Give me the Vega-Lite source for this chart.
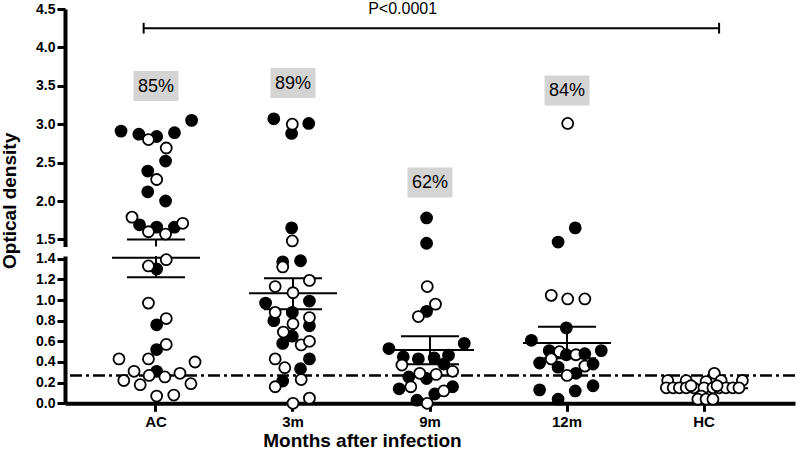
{
  "$schema": "https://vega.github.io/schema/vega-lite/v6.json",
  "background": "white",
  "padding": {"left": 0, "top": 1, "right": 2, "bottom": 2},
  "spacing": 9,
  "bounds": "flush",
  "config": {
    "view": {"stroke": null},
    "font": "Liberation Sans",
    "axis": {
      "domainColor": "black", "domainWidth": 4, "tickColor": "black", "tickWidth": 3, "tickSize": 8,
      "labelColor": "black", "labelFont": "Liberation Sans", "labelFontWeight": "bold", "labelFontSize": 14, "labelPadding": 2,
      "labelOverlap": false, "labelFlush": false,
      "titleColor": "black", "titleFont": "Liberation Sans", "titleFontWeight": "bold", "titleFontSize": 19, "grid": false
    }
  },
  "datasets": {
    "pts": [
      {"group":"AC","od":2.91,"status":"filled","jitter":-0.51},
      {"group":"AC","od":2.87,"status":"filled","jitter":-0.25},
      {"group":"AC","od":2.84,"status":"filled","jitter":0.01},
      {"group":"AC","od":2.89,"status":"filled","jitter":0.27},
      {"group":"AC","od":3.05,"status":"filled","jitter":0.52},
      {"group":"AC","od":2.52,"status":"filled","jitter":0.14},
      {"group":"AC","od":2.39,"status":"filled","jitter":-0.12},
      {"group":"AC","od":2.12,"status":"filled","jitter":-0.12},
      {"group":"AC","od":2.0,"status":"filled","jitter":0.14},
      {"group":"AC","od":1.69,"status":"filled","jitter":-0.24},
      {"group":"AC","od":1.66,"status":"filled","jitter":0.01},
      {"group":"AC","od":1.66,"status":"filled","jitter":0.27},
      {"group":"AC","od":1.30,"status":"filled","jitter":0.01},
      {"group":"AC","od":0.76,"status":"filled","jitter":0.01},
      {"group":"AC","od":0.52,"status":"filled","jitter":0.01},
      {"group":"AC","od":0.31,"status":"filled","jitter":0.01},
      {"group":"AC","od":2.80,"status":"open","jitter":-0.11},
      {"group":"AC","od":2.69,"status":"open","jitter":0.15},
      {"group":"AC","od":2.28,"status":"open","jitter":0.01},
      {"group":"AC","od":1.79,"status":"open","jitter":-0.35},
      {"group":"AC","od":1.71,"status":"open","jitter":0.39},
      {"group":"AC","od":1.60,"status":"open","jitter":-0.11},
      {"group":"AC","od":1.57,"status":"open","jitter":0.14},
      {"group":"AC","od":1.39,"status":"open","jitter":0.15},
      {"group":"AC","od":1.33,"status":"open","jitter":-0.11},
      {"group":"AC","od":0.97,"status":"open","jitter":-0.11},
      {"group":"AC","od":0.82,"status":"open","jitter":0.15},
      {"group":"AC","od":0.57,"status":"open","jitter":0.15},
      {"group":"AC","od":0.43,"status":"open","jitter":-0.54},
      {"group":"AC","od":0.43,"status":"open","jitter":-0.11},
      {"group":"AC","od":0.40,"status":"open","jitter":0.57},
      {"group":"AC","od":0.31,"status":"open","jitter":-0.32},
      {"group":"AC","od":0.29,"status":"open","jitter":0.35},
      {"group":"AC","od":0.27,"status":"open","jitter":-0.10},
      {"group":"AC","od":0.255,"status":"open","jitter":0.13},
      {"group":"AC","od":0.22,"status":"open","jitter":-0.47},
      {"group":"AC","od":0.18,"status":"open","jitter":-0.23},
      {"group":"AC","od":0.19,"status":"open","jitter":0.51},
      {"group":"AC","od":0.07,"status":"open","jitter":0.01},
      {"group":"AC","od":0.08,"status":"open","jitter":0.26},
      {"group":"3m","od":3.07,"status":"filled","jitter":-0.28},
      {"group":"3m","od":3.01,"status":"filled","jitter":0.23},
      {"group":"3m","od":2.88,"status":"filled","jitter":-0.02},
      {"group":"3m","od":1.65,"status":"filled","jitter":-0.02},
      {"group":"3m","od":1.37,"status":"filled","jitter":-0.15},
      {"group":"3m","od":1.38,"status":"filled","jitter":0.11},
      {"group":"3m","od":0.97,"status":"filled","jitter":-0.40},
      {"group":"3m","od":0.99,"status":"filled","jitter":0.24},
      {"group":"3m","od":0.88,"status":"filled","jitter":-0.01},
      {"group":"3m","od":0.80,"status":"filled","jitter":-0.28},
      {"group":"3m","od":0.75,"status":"filled","jitter":0.24},
      {"group":"3m","od":0.65,"status":"filled","jitter":-0.01},
      {"group":"3m","od":0.58,"status":"filled","jitter":-0.15},
      {"group":"3m","od":0.43,"status":"filled","jitter":0.24},
      {"group":"3m","od":0.335,"status":"filled","jitter":0.11},
      {"group":"3m","od":0.215,"status":"filled","jitter":-0.15},
      {"group":"3m","od":3.0,"status":"open","jitter":-0.01},
      {"group":"3m","od":1.48,"status":"open","jitter":-0.01},
      {"group":"3m","od":1.32,"status":"open","jitter":-0.15},
      {"group":"3m","od":1.19,"status":"open","jitter":0.24},
      {"group":"3m","od":1.13,"status":"open","jitter":-0.26},
      {"group":"3m","od":1.07,"status":"open","jitter":0.0},
      {"group":"3m","od":0.88,"status":"open","jitter":-0.26},
      {"group":"3m","od":0.83,"status":"open","jitter":0.24},
      {"group":"3m","od":0.77,"status":"open","jitter":0.0},
      {"group":"3m","od":0.69,"status":"open","jitter":-0.14},
      {"group":"3m","od":0.565,"status":"open","jitter":0.12},
      {"group":"3m","od":0.60,"status":"open","jitter":0.24},
      {"group":"3m","od":0.43,"status":"open","jitter":-0.26},
      {"group":"3m","od":0.345,"status":"open","jitter":-0.12},
      {"group":"3m","od":0.23,"status":"open","jitter":0.12},
      {"group":"3m","od":0.16,"status":"open","jitter":-0.26},
      {"group":"3m","od":0.05,"status":"open","jitter":0.24},
      {"group":"3m","od":0.0,"status":"open","jitter":0.0},
      {"group":"9m","od":1.78,"status":"filled","jitter":-0.05},
      {"group":"9m","od":1.45,"status":"filled","jitter":-0.05},
      {"group":"9m","od":0.89,"status":"filled","jitter":-0.05},
      {"group":"9m","od":0.53,"status":"filled","jitter":-0.60},
      {"group":"9m","od":0.45,"status":"filled","jitter":-0.39},
      {"group":"9m","od":0.43,"status":"filled","jitter":-0.17},
      {"group":"9m","od":0.44,"status":"filled","jitter":0.06},
      {"group":"9m","od":0.465,"status":"filled","jitter":0.27},
      {"group":"9m","od":0.58,"status":"filled","jitter":0.50},
      {"group":"9m","od":0.38,"status":"filled","jitter":0.20},
      {"group":"9m","od":0.255,"status":"filled","jitter":-0.31},
      {"group":"9m","od":0.24,"status":"filled","jitter":-0.05},
      {"group":"9m","od":0.14,"status":"filled","jitter":-0.45},
      {"group":"9m","od":0.16,"status":"filled","jitter":0.33},
      {"group":"9m","od":0.09,"status":"filled","jitter":0.07},
      {"group":"9m","od":0.03,"status":"filled","jitter":-0.19},
      {"group":"9m","od":1.13,"status":"open","jitter":-0.04},
      {"group":"9m","od":0.96,"status":"open","jitter":0.08},
      {"group":"9m","od":0.84,"status":"open","jitter":-0.17},
      {"group":"9m","od":0.37,"status":"open","jitter":-0.41},
      {"group":"9m","od":0.29,"status":"open","jitter":-0.15},
      {"group":"9m","od":0.28,"status":"open","jitter":0.09},
      {"group":"9m","od":0.31,"status":"open","jitter":0.33},
      {"group":"9m","od":0.16,"status":"open","jitter":-0.28},
      {"group":"9m","od":0.12,"status":"open","jitter":0.20},
      {"group":"9m","od":0.0,"status":"open","jitter":-0.04},
      {"group":"12m","od":3.01,"status":"open","jitter":0.01},
      {"group":"12m","od":1.65,"status":"filled","jitter":0.12},
      {"group":"12m","od":1.465,"status":"filled","jitter":-0.13},
      {"group":"12m","od":1.045,"status":"open","jitter":-0.23},
      {"group":"12m","od":1.01,"status":"open","jitter":0.01},
      {"group":"12m","od":1.01,"status":"open","jitter":0.26},
      {"group":"12m","od":0.73,"status":"filled","jitter":-0.01},
      {"group":"12m","od":0.61,"status":"filled","jitter":-0.52},
      {"group":"12m","od":0.51,"status":"filled","jitter":-0.26},
      {"group":"12m","od":0.50,"status":"open","jitter":-0.11},
      {"group":"12m","od":0.47,"status":"filled","jitter":-0.01},
      {"group":"12m","od":0.47,"status":"open","jitter":0.13},
      {"group":"12m","od":0.48,"status":"filled","jitter":0.26},
      {"group":"12m","od":0.51,"status":"filled","jitter":0.50},
      {"group":"12m","od":0.39,"status":"filled","jitter":-0.40},
      {"group":"12m","od":0.43,"status":"open","jitter":-0.23},
      {"group":"12m","od":0.35,"status":"filled","jitter":-0.13},
      {"group":"12m","od":0.36,"status":"open","jitter":0.26},
      {"group":"12m","od":0.38,"status":"filled","jitter":0.38},
      {"group":"12m","od":0.29,"status":"filled","jitter":0.13},
      {"group":"12m","od":0.27,"status":"open","jitter":0.0},
      {"group":"12m","od":0.13,"status":"filled","jitter":-0.40},
      {"group":"12m","od":0.12,"status":"filled","jitter":0.12},
      {"group":"12m","od":0.17,"status":"filled","jitter":0.38},
      {"group":"12m","od":0.04,"status":"filled","jitter":-0.13},
      {"group":"HC","od":0.29,"status":"open","jitter":0.15},
      {"group":"HC","od":0.22,"status":"open","jitter":-0.53},
      {"group":"HC","od":0.22,"status":"open","jitter":-0.26},
      {"group":"HC","od":0.21,"status":"open","jitter":0.03},
      {"group":"HC","od":0.22,"status":"open","jitter":0.25},
      {"group":"HC","od":0.22,"status":"open","jitter":0.56},
      {"group":"HC","od":0.15,"status":"open","jitter":-0.55},
      {"group":"HC","od":0.15,"status":"open","jitter":-0.45},
      {"group":"HC","od":0.15,"status":"open","jitter":-0.36},
      {"group":"HC","od":0.15,"status":"open","jitter":-0.26},
      {"group":"HC","od":0.15,"status":"open","jitter":-0.15},
      {"group":"HC","od":0.15,"status":"open","jitter":0.0},
      {"group":"HC","od":0.15,"status":"open","jitter":0.13},
      {"group":"HC","od":0.15,"status":"open","jitter":0.22},
      {"group":"HC","od":0.15,"status":"open","jitter":0.32},
      {"group":"HC","od":0.15,"status":"open","jitter":0.42},
      {"group":"HC","od":0.15,"status":"open","jitter":0.51},
      {"group":"HC","od":0.17,"status":"open","jitter":-0.19},
      {"group":"HC","od":0.17,"status":"open","jitter":0.19},
      {"group":"HC","od":0.07,"status":"open","jitter":-0.04},
      {"group":"HC","od":0.04,"status":"open","jitter":-0.09},
      {"group":"HC","od":0.04,"status":"open","jitter":0.03},
      {"group":"HC","od":0.04,"status":"open","jitter":0.13}
    ],
    "stats": [
      {"group":"AC","mean":1.41,"lo":1.22,"hi":1.50},
      {"group":"3m","mean":1.065,"lo":0.91,"hi":1.21},
      {"group":"9m","mean":0.516,"lo":0.377,"hi":0.65},
      {"group":"12m","mean":0.584,"lo":0.435,"hi":0.74},
      {"group":"HC","mean":0.145,"lo":0.13,"hi":0.16}
    ],
    "pct": [
      {"group":"AC","od":3.496,"label":"85%"},
      {"group":"3m","od":3.538,"label":"89%"},
      {"group":"9m","od":2.242,"label":"62%"},
      {"group":"12m","od":3.44,"label":"84%"}
    ]
  },
  "vconcat": [
    {
      "width": 730,
      "height": 237.4,
      "encoding": {
        "x": {"field": "group", "type": "nominal", "scale": {"type": "band", "domain": ["AC","3m","9m","12m","HC"], "paddingInner": 0, "paddingOuter": 0.164}, "axis": null}
      },
      "layer": [
        {
          "data": {"name": "pct"},
          "mark": {"type": "point", "shape": "M-1,-0.667L1,-0.667L1,0.667L-1,0.667Z", "size": 2025, "filled": true, "fill": "#d4d4d4", "opacity": 1, "strokeWidth": 0},
          "encoding": {
            "y": {"field": "od", "type": "quantitative", "scale": {"domain": [1.409, 4.5], "nice": false, "zero": false},
                  "axis": {"values": [1.5,2,2.5,3,3.5,4,4.5], "tickCount": 50, "format": ".1f", "title": "Optical density", "titleY": 191.4, "titleX": -46, "titleAlign": "center"}}
          }
        },
        {
          "data": {"name": "pct"},
          "mark": {"type": "text", "fontSize": 18, "baseline": "middle", "align": "center", "color": "black", "dy": 1},
          "encoding": {"y": {"field": "od", "type": "quantitative", "title": "Optical density"}, "text": {"field": "label"}}
        },
        {
          "data": {"values": [{}]},
          "mark": {"type": "rule", "color": "black", "strokeWidth": 2},
          "encoding": {
            "x": {"datum": "AC", "bandPosition": 0.41},
            "x2": {"datum": "HC", "bandPosition": 0.61},
            "y": {"datum": 4.25, "type": "quantitative", "title": "Optical density"}
          }
        },
        {
          "data": {"values": [{}]},
          "mark": {"type": "rule", "color": "black", "strokeWidth": 2},
          "encoding": {
            "x": {"datum": "AC", "bandPosition": 0.41},
            "y": {"datum": 4.32, "type": "quantitative", "title": "Optical density"},
            "y2": {"datum": 4.18}
          }
        },
        {
          "data": {"values": [{}]},
          "mark": {"type": "rule", "color": "black", "strokeWidth": 2},
          "encoding": {
            "x": {"datum": "HC", "bandPosition": 0.61},
            "y": {"datum": 4.32, "type": "quantitative", "title": "Optical density"},
            "y2": {"datum": 4.18}
          }
        },
        {
          "data": {"values": [{"label": "P<0.0001"}]},
          "mark": {"type": "text", "fontSize": 16, "baseline": "middle", "align": "center", "color": "black"},
          "encoding": {
            "x": {"datum": "9m", "bandPosition": 0.30},
            "y": {"datum": 4.5, "type": "quantitative", "title": "Optical density"},
            "text": {"field": "label"}
          }
        },
        {
          "data": {"name": "stats"},
          "mark": {"type": "rule", "color": "black", "strokeWidth": 2, "clip": true},
          "encoding": {"y": {"field": "lo", "type": "quantitative", "title": "Optical density"}, "y2": {"field": "hi"}}
        },
        {
          "data": {"name": "stats"},
          "mark": {"type": "tick", "color": "black", "thickness": 2, "size": 58, "opacity": 1, "clip": true},
          "encoding": {"y": {"field": "hi", "type": "quantitative", "title": "Optical density"}}
        },
        {
          "data": {"name": "pts"},
          "transform": [{"filter": "datum.od >= 1.43"}],
          "mark": {"type": "point", "shape": "circle", "filled": true, "size": 121, "stroke": "black", "strokeWidth": 1.8, "opacity": 1},
          "encoding": {
            "xOffset": {"field": "jitter", "type": "quantitative", "scale": {"domain": [-1, 1]}},
            "y": {"field": "od", "type": "quantitative", "title": "Optical density"},
            "fill": {"field": "status", "type": "nominal", "scale": {"domain": ["filled","open"], "range": ["black","white"]}, "legend": null}
          }
        }
      ]
    },
    {
      "width": 730,
      "height": 147.3,
      "encoding": {
        "x": {"field": "group", "type": "nominal", "scale": {"type": "band", "domain": ["AC","3m","9m","12m","HC"], "paddingInner": 0, "paddingOuter": 0.164},
              "axis": {"labelAngle": 0, "labelFontSize": 15, "labelPadding": 3, "title": "Months after infection", "titleX": 297, "titleAlign": "center", "titlePadding": 2}}
      },
      "layer": [
        {
          "data": {"values": [{}]},
          "mark": {"type": "rule", "color": "black", "strokeWidth": 2.5, "strokeDash": [12, 4, 3, 4]},
          "encoding": {
            "x": null,
            "y": {"datum": 0.27, "type": "quantitative", "scale": {"domain": [0, 1.426], "nice": false, "zero": false},
                  "axis": {"values": [0,0.2,0.4,0.6,0.8,1.0,1.2,1.4], "tickCount": 50, "format": ".1f", "title": null}}
          }
        },
        {
          "data": {"name": "stats"},
          "mark": {"type": "rule", "color": "black", "strokeWidth": 2, "clip": true},
          "encoding": {"y": {"field": "lo", "type": "quantitative"}, "y2": {"field": "hi"}}
        },
        {
          "data": {"name": "stats"},
          "mark": {"type": "tick", "color": "black", "thickness": 2, "size": 88, "opacity": 1, "clip": true},
          "encoding": {"y": {"field": "mean", "type": "quantitative"}}
        },
        {
          "data": {"name": "stats"},
          "mark": {"type": "tick", "color": "black", "thickness": 2, "size": 58, "opacity": 1, "clip": true},
          "encoding": {"y": {"field": "hi", "type": "quantitative"}}
        },
        {
          "data": {"name": "stats"},
          "mark": {"type": "tick", "color": "black", "thickness": 2, "size": 58, "opacity": 1, "clip": true},
          "encoding": {"y": {"field": "lo", "type": "quantitative"}}
        },
        {
          "data": {"name": "pts"},
          "transform": [{"filter": "datum.od < 1.43"}],
          "mark": {"type": "point", "shape": "circle", "filled": true, "size": 121, "stroke": "black", "strokeWidth": 1.8, "opacity": 1},
          "encoding": {
            "xOffset": {"field": "jitter", "type": "quantitative", "scale": {"domain": [-1, 1]}},
            "y": {"field": "od", "type": "quantitative"},
            "fill": {"field": "status", "type": "nominal", "scale": {"domain": ["filled","open"], "range": ["black","white"]}, "legend": null}
          }
        }
      ]
    }
  ]
}
